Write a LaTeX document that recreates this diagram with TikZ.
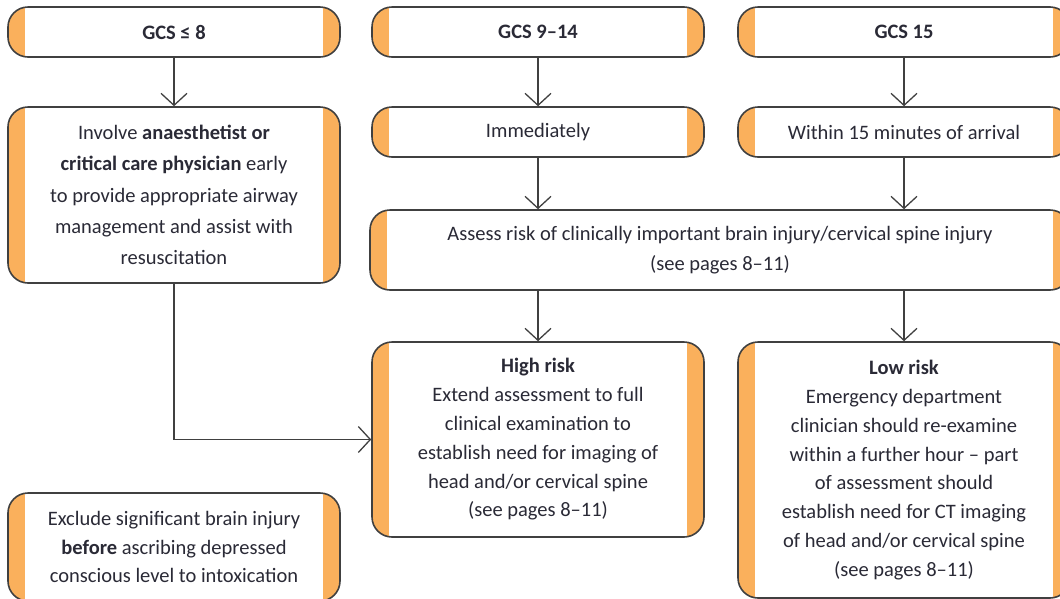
\documentclass[tikz,border=0pt]{standalone}
\usepackage{fontspec}
\setmainfont{Carlito}
\usetikzlibrary{arrows.meta}
\definecolor{orangec}{HTML}{FAB05C}
\definecolor{bordc}{HTML}{404040}
\definecolor{textc}{HTML}{2A2A36}
\tikzset{
  box/.style={draw=bordc, line width=1.6pt, fill=white, rounded corners=20pt,
    inner sep=0pt, align=center, text=textc, minimum width=332pt,
    font=\fontsize{20.5}{28.8}\selectfont,
    path picture={
      \fill[orangec, sharp corners] (path picture bounding box.south west) rectangle ([xshift=17pt]path picture bounding box.north west);
      \fill[orangec, sharp corners] (path picture bounding box.south east) rectangle ([xshift=-17pt]path picture bounding box.north east);
    }},
  conn/.style={draw=bordc, line width=1.3pt, -{Straight Barb[length=12pt,width=26pt,line width=1.3pt]}}
}
\begin{document}
\begin{tikzpicture}[x=1pt,y=-1pt]
\useasboundingbox (0,0) rectangle (1060,598);
\clip (0,0) rectangle (1060,598);
\node[box, minimum height=50pt] (g8) at (174,32) {\textbf{GCS ≤ 8}};
\node[box, minimum height=50pt] (g914) at (538,32) {\textbf{GCS 9–14}};
\node[box, minimum height=50pt] (g15) at (904,32) {\textbf{GCS 15}};
\node[box, minimum height=176pt, font=\fontsize{20.5}{31.3}\selectfont] (inv) at (174,195) {Involve \textbf{anaesthetist or}\\ \textbf{critical care physician} early\\ to provide appropriate airway\\ management and assist with\\ resuscitation};
\node[box, minimum height=50pt] (imm) at (538,132) {Immediately};
\node[box, minimum height=50pt] (win) at (904,132) {Within 15 minutes of arrival};
\node[box, minimum height=80pt, minimum width=700pt, font=\fontsize{20.5}{30}\selectfont] (ass) at (720,250) {Assess risk of clinically important brain injury/cervical spine injury\\ (see pages 8–11)};
\node[box, minimum height=195pt] (high) at (538,439.5) {\textbf{High risk}\\ Extend assessment to full\\ clinical examination to\\ establish need for imaging of\\ head and/or cervical spine\\ (see pages 8–11)};
\node[box, minimum height=256pt] (low) at (904,470) {\textbf{Low risk}\\ Emergency department\\ clinician should re-examine\\ within a further hour – part\\ of assessment should\\ establish need for CT imaging\\ of head and/or cervical spine\\ (see pages 8–11)};
\node[box, minimum height=108pt] (exc) at (174,547) {Exclude significant brain injury\\ \textbf{before} ascribing depressed\\ conscious level to intoxication};
\draw[conn] (g8) -- (inv);
\draw[conn] (g914) -- (imm);
\draw[conn] (g15) -- (win);
\draw[conn] (imm) -- (imm |- ass.north);
\draw[conn] (win) -- (win |- ass.north);
\draw[conn] (ass.south -| high) -- (high);
\draw[conn] (ass.south -| low) -- (low);
\draw[conn] (inv.south) |- (high.west);
\end{tikzpicture}
\end{document}
